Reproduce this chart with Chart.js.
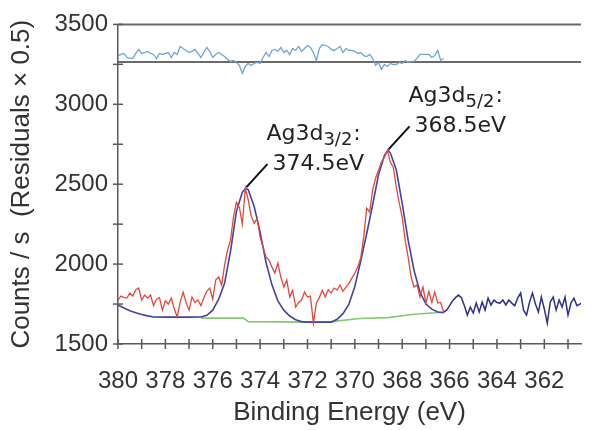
<!DOCTYPE html>
<html lang="en">
<head>
<meta charset="UTF-8">
<title>Ag3d XPS</title>
<script src="https://cdn.jsdelivr.net/npm/chart.js"></script>
<style>
  body { margin: 0; background: #fff; }
  #wrap { width: 591px; height: 430px; }
</style>
</head>
<body>
<div id="wrap"><canvas id="myChart"></canvas></div>
<script>
// measured grid: 380 eV downwards, 0.125 eV per channel
const eStart = 380;
const eStep = 0.125;

// raw counts inside the fit window (380 -> 366.25 eV)
const rawRegion = [
  1775,1800,1790,1787,1819,1800,1840,1850,1775,1806,
  1787,1806,1740,1780,1790,1712,1770,1750,1787,1720,
  1669,1762,1825,1760,1712,1794,1760,1775,1740,1790,
  1830,1850,1780,1900,1919,1869,1994,2087,2150,2294,
  2387,2356,2250,2475,2400,2300,2256,2287,2169,2106,
  2044,2025,1981,1944,2006,1919,1856,1900,1794,1837,
  1731,1760,1775,1825,1794,1800,1631,1756,1790,1837,
  1794,1840,1819,1850,1837,1869,1830,1856,1880,1912,
  1944,1981,2040,2169,2350,2325,2462,2537,2587,2640,
  2669,2712,2637,2606,2481,2381,2294,2150,2044,1919,
  1856,1870,1794,1856,1756,1830,1760,1825,1756,1760,
  1700
];
// raw counts outside the window (366.25 -> 360.375 eV)
const rawTail = [
  1700,1712,1740,1770,1790,1806,1790,1740,1681,1731,
  1694,1756,1700,1762,1712,1787,1744,1775,1760,1756,
  1775,1744,1775,1756,1740,1787,1819,1712,1681,1762,
  1819,1750,1700,1794,1720,1631,1762,1794,1712,1775,
  1731,1794,1681,1756,1787,1740,1750,1762
];
const tailStartIndex = 110;

// residuals x 0.5, drawn around a zero line
const residualZero = 3265;
const residuals = [
  40,47,53,28,22,22,53,78,53,59,
  66,53,47,22,53,47,53,59,28,59,
  47,97,84,72,59,66,78,53,28,59,
  91,66,28,47,59,47,34,16,3,9,
  -3,-22,-72,-28,-9,-22,-9,-3,-9,28,
  59,34,72,78,66,91,59,72,47,84,
  72,97,66,84,103,91,59,9,84,109,
  103,97,78,72,84,97,59,84,72,72,
  66,53,59,40,34,47,22,-22,-3,-47,
  -16,-28,-9,-16,-16,-3,-9,9,-3,3,
  3,22,47,47,47,47,28,40,72,9,
  22
];

// fit envelope
const fitEnergy = [380.0,379.75,379.5,379.25,379.0,378.75,378.5,378.0,377.5,377.0,
  376.5,376.25,376.0,375.75,375.5,375.25,375.0,374.75,374.6,374.5,
  374.25,374.0,373.75,373.5,373.25,373.0,372.75,372.5,372.25,372.0,
  371.5,371.0,370.75,370.5,370.25,370.0,369.75,369.5,369.25,369.0,
  368.75,368.6,368.5,368.25,368.0,367.75,367.5,367.25,367.0,366.75,
  366.5,366.25];
const fitCounts = [1744,1725,1708,1695,1685,1676,1669,1668,1668,1668,
  1669,1680,1712,1780,1880,2080,2330,2450,2475,2465,
  2360,2200,2010,1870,1770,1712,1675,1652,1640,1637,
  1637,1637,1655,1690,1750,1860,2020,2190,2370,2560,
  2680,2712,2695,2590,2380,2150,1960,1825,1750,1718,
  1700,1696];

// Shirley background
const bgEnergy = [376.5,374.7,374.5,372.0,371.0,369.8,368.6,367.6,366.2];
const bgCounts = [1662,1662,1640,1637,1640,1660,1665,1685,1700];

// peaks
const peakEnergy = [374.62, 368.62];
const peakCounts = [2475, 2712];
const peakSub = ['3/2', '5/2'];
const peakText = ['374.5eV', '368.5eV'];

// axes
const xTickValues = [380,379,378,377,376,375,374,373,372,371,370,369,368,367,366,365,364,363,362,361];
const xLabels = [380,378,376,374,372,370,368,366,364,362];
const yTickValues = [1500,1750,2000,2250,2500,2750,3000,3250,3500];
const yLabels = [1500,2000,2500,3000,3500];

function channel(i) { return eStart - eStep * i; }

const redPts = rawRegion.map((c, i) => ({ x: channel(i), y: c }));
const tailPts = rawTail.map((c, i) => ({ x: channel(tailStartIndex + i), y: c }));
const resPts = residuals.map((r, i) => ({ x: channel(i), y: residualZero + r }));
const fitPts = fitEnergy.map((e, i) => ({ x: e, y: fitCounts[i] }));
const bgPts = bgEnergy.map((e, i) => ({ x: e, y: bgCounts[i] }));

const axisColor = '#5a5a5a';
const labelFont = 'Liberation Sans, Arial, sans-serif';

const extras = {
  id: 'extras',
  beforeDatasetsDraw(chart) {
    const ctx = chart.ctx, ys = chart.scales.y, a = chart.chartArea;
    ctx.save();
    ctx.strokeStyle = '#6a6a6a';
    ctx.lineWidth = 2;
    [3500, residualZero].forEach(v => {
      const y = ys.getPixelForValue(v);
      ctx.beginPath();
      ctx.moveTo(a.left, y);
      ctx.lineTo(a.right, y);
      ctx.stroke();
    });
    ctx.restore();
  },
  afterDraw(chart) {
    const ctx = chart.ctx, xs = chart.scales.x, ys = chart.scales.y, a = chart.chartArea;
    ctx.save();
    // tick marks crossing the axes
    ctx.strokeStyle = axisColor;
    ctx.lineWidth = 1.5;
    yTickValues.forEach(v => {
      const y = ys.getPixelForValue(v);
      ctx.beginPath(); ctx.moveTo(a.left - 5, y); ctx.lineTo(a.left + 5, y); ctx.stroke();
    });
    xTickValues.forEach(v => {
      const x = xs.getPixelForValue(v);
      ctx.beginPath(); ctx.moveTo(x, a.bottom - 5); ctx.lineTo(x, a.bottom + 5); ctx.stroke();
    });
    // peak labels
    peakEnergy.forEach((e, i) => {
      const px = xs.getPixelForValue(e), py = ys.getPixelForValue(peakCounts[i]);
      ctx.strokeStyle = '#111';
      ctx.lineWidth = 2;
      ctx.beginPath(); ctx.moveTo(px + 1, py - 1); ctx.lineTo(px + 22, py - 24); ctx.stroke();
      ctx.fillStyle = '#222';
      ctx.textBaseline = 'alphabetic';
      ctx.textAlign = 'left';
      let x0 = px + 21, y0 = py - 48;
      ctx.font = '22px "DejaVu Sans"';
      ctx.fillText('Ag3d', x0, y0);
      x0 += ctx.measureText('Ag3d').width;
      ctx.font = '18px "DejaVu Sans"';
      ctx.fillText(peakSub[i], x0, y0 + 5);
      x0 += ctx.measureText(peakSub[i]).width + 1;
      ctx.font = '22px "DejaVu Sans"';
      ctx.fillText(':', x0, y0);
      ctx.fillText(peakText[i], px + 27, py - 18);
    });
    ctx.restore();
  }
};

const ctx = document.getElementById('myChart');
new Chart(ctx, {
  type: 'line',
  data: {
    datasets: [
      { data: redPts, borderColor: '#e5483a', borderWidth: 1.3 },
      { data: tailPts, borderColor: '#2f2f8c', borderWidth: 1.5 },
      { data: fitPts, borderColor: '#4343a6', borderWidth: 1.6 },
      { data: bgPts, borderColor: '#86c96e', borderWidth: 1.6 },
      { data: resPts, borderColor: '#72a2dc', borderWidth: 1.3 }
    ]
  },
  options: {
    responsive: true,
    maintainAspectRatio: false,
    animation: false,
    layout: { padding: { top: 24, right: 0, left: 0, bottom: 0 } },
    elements: { point: { radius: 0 }, line: { tension: 0, fill: false } },
    plugins: { legend: { display: false }, tooltip: { enabled: false } },
    scales: {
      x: {
        type: 'linear',
        reverse: true,
        min: 360.45,
        max: 380,
        afterBuildTicks(s) { s.ticks = xTickValues.map(v => ({ value: v })); },
        afterFit(s) { s.height = 86; },
        grid: { drawOnChartArea: false, drawTicks: false },
        border: { color: axisColor, width: 1.5 },
        ticks: {
          autoSkip: false,
          maxRotation: 0,
          padding: 23,
          color: '#333',
          font: { family: labelFont, size: 24 },
          callback: v => xLabels.includes(v) ? String(v) : ''
        },
        title: {
          display: true,
          text: 'Binding Energy (eV)',
          color: '#333',
          font: { family: labelFont, size: 26 },
          padding: { top: 0, bottom: 2 }
        }
      },
      y: {
        min: 1500,
        max: 3500,
        afterBuildTicks(s) { s.ticks = yTickValues.map(v => ({ value: v })); },
        afterFit(s) { s.width = 118; },
        grid: { drawOnChartArea: false, drawTicks: false },
        border: { color: axisColor, width: 1.5 },
        ticks: {
          autoSkip: false,
          padding: 10,
          color: '#333',
          font: { family: labelFont, size: 24 },
          callback: v => yLabels.includes(v) ? String(v) : ''
        },
        title: {
          display: true,
          text: 'Counts / s  (Residuals × 0.5)',
          color: '#333',
          font: { family: labelFont, size: 26 },
          padding: { top: 6, bottom: 0 }
        }
      }
    }
  },
  plugins: [extras]
});
</script>
</body>
</html>
